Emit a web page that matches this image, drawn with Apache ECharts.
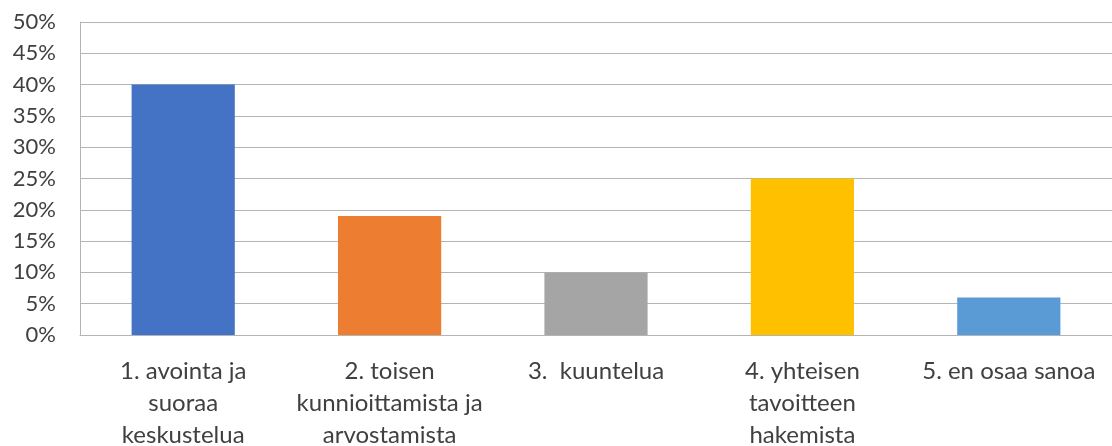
<!DOCTYPE html>
<html>
<head>
<meta charset="utf-8">
<script src="https://cdn.jsdelivr.net/npm/echarts@6/dist/echarts.min.js"></script>
<style>
  html, body { margin: 0; padding: 0; background: #fff; }
  #chart { width: 1112px; height: 446px; }
</style>
</head>
<body>
<div id="chart"></div>
<script>
// categories and values
var categories = [
  '1. avointa ja\nsuoraa\nkeskustelua',
  '2. toisen\nkunnioittamista ja\narvostamista',
  '3.  kuuntelua',
  '4. yhteisen\ntavoitteen\nhakemista',
  '5. en osaa sanoa'
]
var values = [0.40, 0.19, 0.10, 0.25, 0.06]
var barColors = ['#4472C4', '#ED7D31', '#A5A5A5', '#FFC000', '#5B9BD5']

var chart = echarts.init(document.getElementById('chart'))
var option = {
  animation: false,
  textStyle: { fontFamily: 'Lato' },
  grid: {
    left: 80,
    right: 0,
    top: 22,
    bottom: 111,
    outerBoundsMode: 'none'
  },
  xAxis: {
    type: 'category',
    data: categories,
    axisLine: { show: true, lineStyle: { color: '#b4b4b4', width: 1 } },
    axisTick: { show: false },
    axisLabel: {
      interval: 0,
      color: '#404040',
      fontSize: 24,
      lineHeight: 32,
      margin: 20
    }
  },
  yAxis: {
    type: 'value',
    min: 0,
    max: 0.5,
    interval: 0.05,
    axisLine: { show: true, lineStyle: { color: '#b4b4b4', width: 1 } },
    axisTick: { show: false },
    splitLine: { lineStyle: { color: '#b4b4b4', width: 1 } },
    axisLabel: {
      color: '#404040',
      fontSize: 22,
      margin: 24,
      formatter: function (v) { return Math.round(v * 100) + '%' }
    }
  },
  series: [
    {
      type: 'bar',
      barWidth: '50%',
      data: values.map(function (v, i) {
        return { value: v, itemStyle: { color: barColors[i] } }
      })
    }
  ]
}
chart.setOption(option)
</script>
</body>
</html>
